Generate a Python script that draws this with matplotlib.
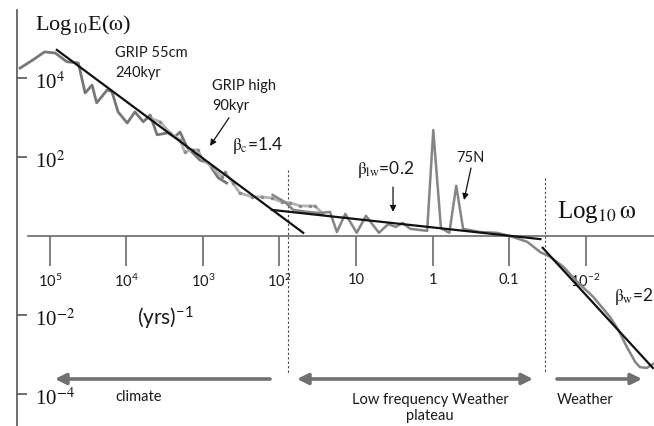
import matplotlib
matplotlib.use("Agg")
import matplotlib.pyplot as plt

# coordinates: x = -log10(period label), y = log10 E
# GRIP 55cm, 240kyr
grip55_x = [-5.39, -5.22, -5.07, -4.93, -4.78, -4.63, -4.54, -4.45, -4.39, -4.25, -4.19, -4.11,
            -3.99, -3.89, -3.78, -3.69, -3.60, -3.46, -3.37, -3.30, -3.21, -3.13, -3.04, -2.93,
            -2.80, -2.69]
grip55_y = [4.25, 4.46, 4.66, 4.63, 4.41, 4.38, 3.62, 3.82, 3.37, 3.70, 3.65, 3.14,
            2.86, 3.14, 2.89, 3.06, 2.56, 2.61, 2.51, 2.63, 2.25, 2.10, 1.92, 1.85,
            1.47, 1.34]

# GRIP high, 90kyr
griphigh_x = [-3.69, -3.56, -3.43, -3.30, -3.24, -3.13, -3.07, -3.00, -2.88, -2.75, -2.71, -2.61,
              -2.52, -2.36, -2.23, -2.10, -1.97, -1.86, -1.73, -1.60, -1.54, -1.44]
griphigh_y = [2.99, 2.89, 2.61, 2.43, 2.13, 2.18, 2.18, 1.92, 1.75, 1.49, 1.62, 1.34,
              1.09, 0.99, 0.99, 0.96, 0.86, 0.84, 0.76, 0.76, 0.76, 0.58]

# 75N (continues into weather regime)
n75_x = [-2.09, -1.93, -1.82, -1.64, -1.47, -1.34, -1.25, -1.14, -0.99, -0.87, -0.70, -0.58,
         -0.48, -0.39, -0.29, -0.07, 0.01, 0.11, 0.22, 0.31, 0.40, 0.62, 0.84, 1.01,
         1.24, 1.41, 1.54, 1.71, 1.89, 2.10, 2.32, 2.43, 2.54, 2.65, 2.71, 2.80, 2.90]
n75_y = [1.04, 0.86, 0.66, 0.61, 0.58, 0.61, 0.10, 0.56, 0.08, 0.51, 0.08, 0.30,
         0.23, 0.33, 0.18, 0.13, 2.68, 0.20, 0.08, 1.27, 0.18, 0.10, 0.08, 0.00,
         -0.15, -0.41, -0.53, -0.78, -1.16, -1.54, -2.05, -2.38, -2.81, -3.19, -3.32, -3.34, -3.22]

# fitted scaling lines
fit_climate_x = [-4.91, -1.69]
fit_climate_y = [4.71, 0.08]
fit_plateau_x = [-2.10, 1.41]
fit_plateau_y = [0.66, -0.08]
fit_weather_x = [1.44, 2.88]
fit_weather_y = [-0.30, -3.34]

# regime boundaries
bound1_x = [-1.89, -1.89]
bound1_y = [1.67, -3.47]
bound2_x = [1.47, 1.47]
bound2_y = [1.47, -3.44]

xtick_pos = [-5, -4, -3, -2, -1, 0, 1, 2]
xtick_labels = ["10$^5$", "10$^4$", "10$^3$", "10$^2$", "10", "1", "0.1", "10$^{-2}$"]
ytick_pos = [4, 2, -2, -4]
ytick_labels = ["10$^4$", "10$^2$", "10$^{-2}$", "10$^{-4}$"]

SANS = "Lato"
plt.rcParams["font.family"] = SANS
plt.rcParams["mathtext.fontset"] = "custom"
plt.rcParams["mathtext.rm"] = SANS
plt.rcParams["mathtext.it"] = SANS + ":italic"
plt.rcParams["mathtext.bf"] = SANS + ":bold"

fig = plt.figure(figsize=(6.54, 4.26), dpi=100)
ax = fig.add_axes([17 / 654, 0, 637 / 654, 416 / 426])
ax.set_xlim(-5.431, 2.895)
ax.set_ylim(-4.81, 5.72)

AX_COL = "#6a6a6a"
TXT = "#1a1a1a"
for s in ("top", "right"):
    ax.spines[s].set_visible(False)
ax.spines["left"].set_color("#555555")
ax.spines["left"].set_linewidth(1.2)
ax.spines["bottom"].set_position(("data", 0))
ax.spines["bottom"].set_bounds(-5.29, 2.895)
ax.spines["bottom"].set_color(AX_COL)
ax.spines["bottom"].set_linewidth(1.2)

ax.set_xticks(xtick_pos)
ax.set_xticklabels(xtick_labels, fontsize=10.5, color=TXT)
ax.tick_params(axis="x", direction="out", length=21.5, width=1.2, color=AX_COL, pad=5)
ax.set_yticks(ytick_pos)
ax.set_yticklabels([])
ax.tick_params(axis="y", direction="in", length=7.5, width=1.2, color="#555555")

for yp, lab in zip(ytick_pos, ytick_labels):
    ax.text(-5.196, yp - 0.13, lab, fontsize=15, family="Liberation Serif",
            math_fontfamily="stix", ha="left", va="center", color="#111111")

# data curves
ax.plot(grip55_x, grip55_y, color="#777777", lw=2.0, zorder=3)
ax.plot(griphigh_x, griphigh_y, color="#b3b3b3", lw=2.0, marker=".", ms=3,
        mfc="#8a8a8a", mec="#8a8a8a", zorder=3)
ax.plot(n75_x, n75_y, color="#858585", lw=1.8, zorder=3)

# fits
for fx, fy in ((fit_climate_x, fit_climate_y), (fit_plateau_x, fit_plateau_y),
               (fit_weather_x, fit_weather_y)):
    ax.plot(fx, fy, color="#111111", lw=1.6, zorder=4)

for bx, by in ((bound1_x, bound1_y), (bound2_x, bound2_y)):
    ax.plot(bx, by, color="#444444", lw=0.8, dashes=(2, 2), zorder=2)

# regime arrows
arr = dict(color="#707070", lw=2.6, mutation_scale=16, shrinkA=0, shrinkB=0)
ax.annotate("", xy=(-4.935, -3.62), xytext=(-2.124, -3.62),
            arrowprops=dict(arrowstyle="-|>", **arr))
ax.annotate("", xy=(1.314, -3.62), xytext=(-1.771, -3.62),
            arrowprops=dict(arrowstyle="<|-|>", **arr))
ax.annotate("", xy=(2.739, -3.62), xytext=(1.627, -3.62),
            arrowprops=dict(arrowstyle="-|>", **arr))

# pointer arrows
thin = dict(arrowstyle="-|>", color="#111111", lw=0.9, mutation_scale=9, shrinkA=0, shrinkB=0)
ax.annotate("", xy=(-2.908, 2.28), xytext=(-2.660, 2.99), arrowprops=thin)
ax.annotate("", xy=(-0.516, 0.61), xytext=(-0.516, 1.24), arrowprops=thin)
ax.annotate("", xy=(0.412, 0.91), xytext=(0.503, 1.72), arrowprops=thin)

# labels
ax.text(-5.196, 5.34, r"Log$_{10}$E($\mathrm{\omega}$)", fontsize=16, family="Liberation Serif",
        math_fontfamily="stix", ha="left", va="center", color="#111111")
ax.text(1.627, 0.61, r"Log$_{10}\,\mathrm{\omega}$", fontsize=18, family="Liberation Serif",
        math_fontfamily="stix", ha="left", va="center", color="#111111")
ax.text(-4.150, 4.63, "GRIP 55cm", fontsize=10.5, ha="left", va="center", color=TXT)
ax.text(-4.150, 4.13, "240kyr", fontsize=10.5, ha="left", va="center", color=TXT)
ax.text(-2.882, 3.80, "GRIP high", fontsize=10.5, ha="left", va="center", color=TXT)
ax.text(-2.882, 3.29, "90kyr", fontsize=10.5, ha="left", va="center", color=TXT)
ax.text(-2.621, 2.28, r"$\mathrm{\beta}_{\mathrm{c}}$=1.4", fontsize=12.5, math_fontfamily="stix",
        ha="left", va="center", color=TXT)
ax.text(-0.987, 1.67, r"$\mathrm{\beta}_{\mathrm{lw}}$=0.2", fontsize=12.5, math_fontfamily="stix",
        ha="left", va="center", color=TXT)
ax.text(0.307, 1.97, "75N", fontsize=10.5, ha="left", va="center", color=TXT)
ax.text(2.373, -1.54, r"$\mathrm{\beta}_{\mathrm{w}}$=2", fontsize=12.5, math_fontfamily="stix",
        ha="left", va="center", color=TXT)
ax.text(-3.863, -2.08, "(yrs)$^{-1}$", fontsize=15, ha="left", va="center", color=TXT)
ax.text(-3.837, -4.08, "climate", fontsize=10.5, ha="center", va="center", color=TXT)
ax.text(-0.033, -4.15, "Low frequency Weather", fontsize=10.5, ha="center", va="center",
        color=TXT)
ax.text(-0.033, -4.56, "plateau", fontsize=10.5, ha="center", va="center", color=TXT)
ax.text(1.627, -4.15, "Weather", fontsize=10.5, ha="left", va="center", color=TXT)

fig.savefig("out.png", dpi=100)
